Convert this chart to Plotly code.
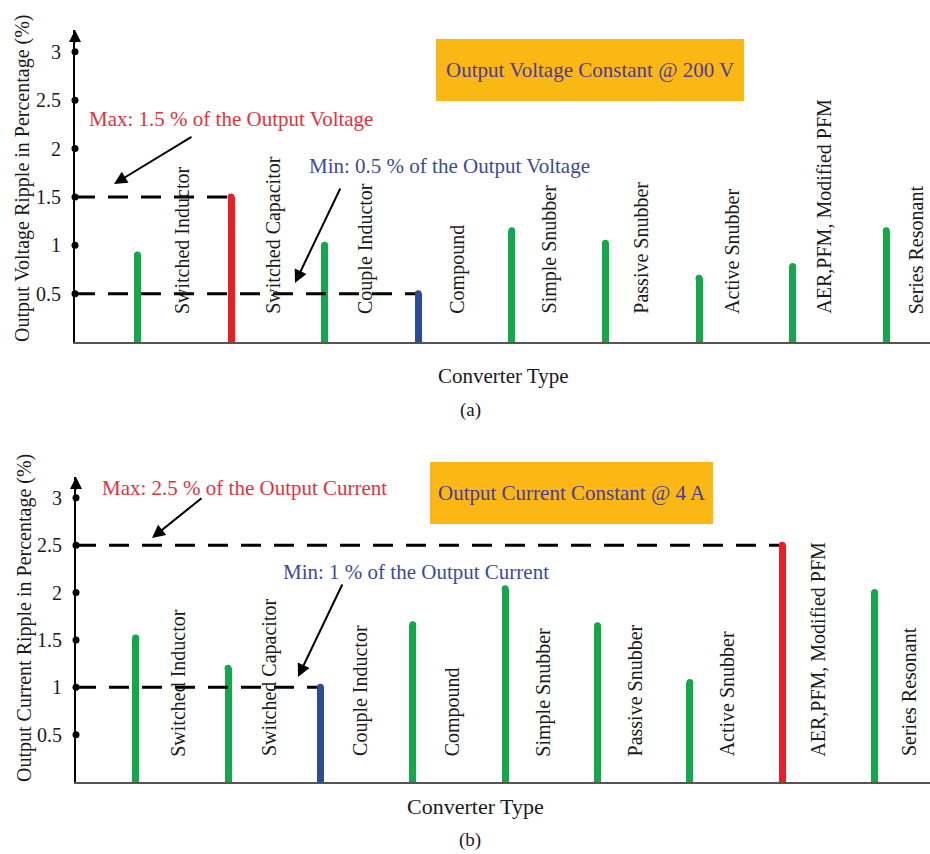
import plotly.graph_objects as go

# ---------------- data ----------------
converter_types = ["Switched Inductor", "Switched Capacitor", "Couple Inductor", "Compound",
                   "Simple Snubber", "Passive Snubber", "Active Snubber",
                   "AER,PFM, Modified PFM", "Series Resonant"]
voltage_ripple = [0.9, 1.5, 1.0, 0.5, 1.15, 1.02, 0.66, 0.78, 1.15]
current_ripple = [1.52, 1.2, 1.0, 1.66, 2.04, 1.65, 1.05, 2.5, 2.0]
y_ticks = [0.5, 1, 1.5, 2, 2.5, 3]
y_tick_text = ["0.5", "1", "1.5", "2", "2.5", "3"]
voltage_max, voltage_min = 1.5, 0.5
current_max, current_min = 2.5, 1.0

GREEN = "#13a94b"
RED = "#ee1c25"
BLUE = "#2d4b9c"
FONT = "Liberation Serif"
W, H = 930, 854


def px(x):
    return x / W


def py(y):
    return 1 - y / H


def colors_for(vals):
    out = []
    imax = vals.index(max(vals))
    imin = vals.index(min(vals))
    for i, v in enumerate(vals):
        if i == imax:
            out.append(RED)
        elif i == imin:
            out.append(BLUE)
        else:
            out.append(GREEN)
    return out


fig = go.Figure()
annotations = []
shapes = []


def paper_text(x, y, text, size, color, angle=0):
    return dict(x=px(x), y=py(y), xref="paper", yref="paper", text=text, showarrow=False,
                textangle=angle, xanchor="center", yanchor="middle",
                font=dict(family=FONT, size=size, color=color))


panels = [
    dict(vals=voltage_ripple, vmax=voltage_max, vmin=voltage_min, xa="x", ya="y",
         xr=[-0.667, 8.468], yr=[0, 3.226], xdom=[px(75), 1.0], ydom=[py(342), py(30)],
         lbl_off=0.478, lbl_step=0.980,
         ytitle="Output Voltage Ripple in Percentage (%)", ytitle_pos=(22, 178),
         xtitle_pos=(503, 376), xtitle_size=21, tag="(a)", tag_pos=(470, 410),
         lbl_y=0.27,
         max_text="Max: 1.5 % of the Output Voltage", max_pos=(231, 119),
         min_text="Min: 0.5 % of the Output Voltage", min_pos=(449, 166),
         max_arrow=((114, 184), (193, 136)), min_arrow=((295, 283), (341, 187)),
         box=(436, 39, 744, 101), box_text="Output Voltage Constant @ 200 V"),
    dict(vals=current_ripple, vmax=current_max, vmin=current_min, xa="x2", ya="y2",
         xr=[-0.646, 8.60], yr=[0, 3.22], xdom=[px(76), 1.0], ydom=[py(782), py(477)],
         lbl_off=0.463, lbl_step=0.989,
         ytitle="Output Current Ripple in Percentage (%)", ytitle_pos=(24, 618),
         xtitle_pos=(475, 806), xtitle_size=22, tag="(b)", tag_pos=(470, 840),
         lbl_y=0.25,
         max_text="Max: 2.5 % of the Output Current", max_pos=(244, 488),
         min_text="Min: 1 % of the Output Current", min_pos=(416, 572),
         max_arrow=((152, 538), (203, 497)), min_arrow=((298, 677), (343, 583)),
         box=(430, 462, 713, 524), box_text="Output Current Constant @ 4 A"),
]

for p in panels:
    vals = p["vals"]
    xs = list(range(len(vals)))
    cols = colors_for(vals)
    imax = vals.index(max(vals))
    imin = vals.index(min(vals))
    xmin = p["xr"][0]

    # dashed reference lines (drawn first, under bars)
    for thr, idx in ((p["vmax"], imax), (p["vmin"], imin)):
        fig.add_trace(go.Scatter(x=[xmin, xs[idx]], y=[thr, thr], mode="lines",
                                 line=dict(color="black", width=3, dash="20px,13px"),
                                 xaxis=p["xa"], yaxis=p["ya"], showlegend=False,
                                 hoverinfo="skip", cliponaxis=False))
    # bars
    fig.add_trace(go.Bar(x=xs, y=vals, width=0.075, marker=dict(color=cols, line=dict(width=0)),
                         xaxis=p["xa"], yaxis=p["ya"], showlegend=False))
    # rounded caps
    fig.add_trace(go.Scatter(x=xs, y=vals, mode="markers",
                             marker=dict(color=cols, size=7, line=dict(width=0)),
                             xaxis=p["xa"], yaxis=p["ya"], showlegend=False, cliponaxis=False))
    # tick dots on the y axis
    fig.add_trace(go.Scatter(x=[xmin] * len(y_ticks), y=y_ticks, mode="markers",
                             marker=dict(color="black", size=7),
                             xaxis=p["xa"], yaxis=p["ya"], showlegend=False, cliponaxis=False))

    # category labels (rotated), sitting just right of each bar
    for i, name in enumerate(converter_types):
        annotations.append(dict(x=p["lbl_off"] + p["lbl_step"] * i, y=p["lbl_y"],
                                xref=p["xa"], yref=p["ya"],
                                text=name, textangle=-90, showarrow=False,
                                xanchor="center", yanchor="bottom",
                                font=dict(family=FONT, size=20, color="#1a1a1a")))
    # axis arrow at top of y axis
    annotations.append(dict(x=xmin, y=p["yr"][1], xref=p["xa"], yref=p["ya"], text="",
                            showarrow=True, ax=0, ay=14, arrowhead=2, arrowsize=1.2,
                            arrowwidth=2, arrowcolor="black"))
    # y title
    annotations.append(paper_text(*p["ytitle_pos"], p["ytitle"], 20, "#1a1a1a", angle=-90))
    # x title and tag
    annotations.append(paper_text(*p["xtitle_pos"], "Converter Type", p["xtitle_size"], "#1a1a1a"))
    annotations.append(paper_text(*p["tag_pos"], p["tag"], 19, "#1a1a1a"))
    # max/min texts
    annotations.append(paper_text(*p["max_pos"], p["max_text"], 21, "#e5323b"))
    annotations.append(paper_text(*p["min_pos"], p["min_text"], 21, "#3d4a9c"))
    # arrows
    for head, tail in (p["max_arrow"], p["min_arrow"]):
        annotations.append(dict(x=px(head[0]), y=py(head[1]), xref="paper", yref="paper",
                                text="", showarrow=True, ax=tail[0] - head[0],
                                ay=tail[1] - head[1], arrowhead=2, arrowsize=1.3,
                                arrowwidth=2, arrowcolor="black"))
    # orange box
    x0, y0, x1, y1 = p["box"]
    shapes.append(dict(type="rect", xref="paper", yref="paper", x0=px(x0), x1=px(x1),
                       y0=py(y1), y1=py(y0), fillcolor="#fbb714", line=dict(width=0),
                       layer="below"))
    annotations.append(paper_text((x0 + x1) / 2, (y0 + y1) / 2, p["box_text"], 21, "#4a3d9c"))

axis_common_x = dict(showline=True, linecolor="#555555", linewidth=2, showticklabels=False,
                     ticks="", showgrid=False, zeroline=False, fixedrange=True)
axis_common_y = dict(showline=True, linecolor="black", linewidth=2, tickvals=y_ticks,
                     ticktext=y_tick_text, ticks="", showgrid=False, zeroline=False,
                     tickfont=dict(family=FONT, size=20, color="#1a1a1a"),
                     ticklabelstandoff=8)

fig.update_layout(
    width=W, height=H,
    margin=dict(l=0, r=0, t=0, b=0),
    paper_bgcolor="white", plot_bgcolor="white",
    bargap=0,
    xaxis=dict(axis_common_x, domain=panels[0]["xdom"], range=panels[0]["xr"], anchor="y"),
    yaxis=dict(axis_common_y, domain=panels[0]["ydom"], range=panels[0]["yr"], anchor="x"),
    xaxis2=dict(axis_common_x, domain=panels[1]["xdom"], range=panels[1]["xr"], anchor="y2"),
    yaxis2=dict(axis_common_y, domain=panels[1]["ydom"], range=panels[1]["yr"], anchor="x2"),
    annotations=annotations,
    shapes=shapes,
    showlegend=False,
)

fig.write_html("out.html")
